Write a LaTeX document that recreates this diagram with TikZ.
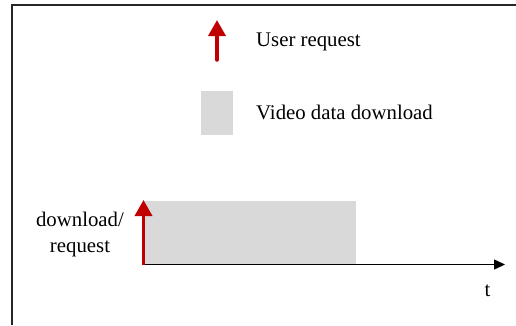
\documentclass[tikz,border=0pt]{standalone}
\usepackage{fontspec}
\setmainfont{Liberation Serif}
\usetikzlibrary{arrows.meta}
\definecolor{reqred}{HTML}{C00000}
\definecolor{dlgray}{HTML}{D9D9D9}
\begin{document}
\begin{tikzpicture}[x=1bp,y=-1bp,
  lbl/.style={anchor=base west,inner sep=0pt,font=\fontsize{20.8bp}{26bp}\selectfont},
  reqarrow/.style={draw=reqred,line width=3.5bp,-{Triangle[width=17bp,length=16bp]},color=reqred},
  dlbox/.style={fill=dlgray,draw=none},
  frameline/.style={draw=black!85,line width=1.4bp}]
\useasboundingbox (0,0) rectangle (516,325);
% frame
\coordinate (fbl) at (12,325);
\coordinate (ftl) at (12,5);
\coordinate (ftr) at (516,5);
\draw[frameline] (fbl) -- (ftl) -- (ftr);
% legend
\coordinate (la0) at (217,60);
\coordinate (la1) at (217,20);
\draw[reqarrow,line cap=round] (la0) -- (la1);
\node[lbl] (ur) at (256,46) {User request};
\fill[dlbox] (201,91) rectangle (233,135);
\node[lbl] (vd) at (256,119.5) {Video data download};
% main
\coordinate (o) at (143.5,264.5);
\coordinate (tend) at (505,264.5);
\fill[dlbox] (143.5,200.5) rectangle (356,264.5);
\draw[line width=1.4bp,-{Triangle[width=10bp,length=11bp]}] (o) -- (tend);
\coordinate (rtip) at (143.5,200);
\draw[reqarrow] (o) -- (rtip);
\node[anchor=base,inner sep=0pt,font=\fontsize{20.8bp}{26bp}\selectfont] (dl) at (80,226.5) {download/};
\node[anchor=base,inner sep=0pt,font=\fontsize{20.8bp}{26bp}\selectfont] (rq) at (80,252) {request};
\node[lbl] (t) at (484.5,296) {t};
\end{tikzpicture}
\end{document}
